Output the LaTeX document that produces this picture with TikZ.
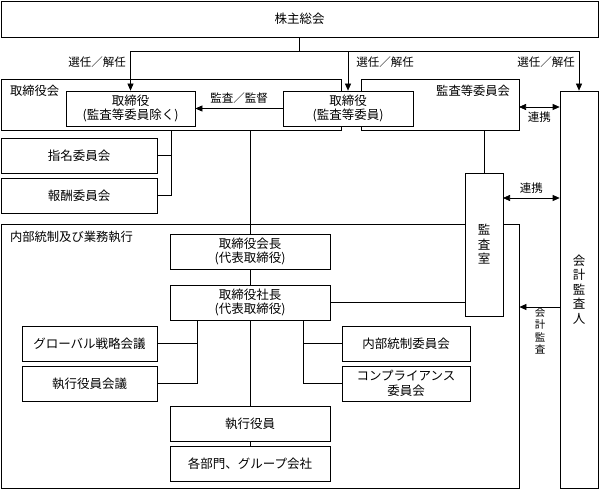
\documentclass[tikz,border=0pt]{standalone}
\usepackage{fontspec}
\setmainfont{Noto Sans CJK JP}
\usetikzlibrary{arrows.meta}

\tikzset{
	box/.style={draw, rectangle, fill=white, inner sep=0pt, minimum height=35pt, align=center, font=\fontsize{12.5}{14.5}\selectfont},
	frame/.style={draw, rectangle, inner sep=0pt},
	lbl/.style={inner sep=1pt, font=\fontsize{11.5}{13}\selectfont},
	ttl/.style={inner sep=1pt, font=\fontsize{12.3}{14}\selectfont},
	arr/.style={-{Triangle[length=7pt,width=6pt]}},
	darr/.style={{Triangle[length=7pt,width=6pt]}-{Triangle[length=7pt,width=6pt]}},
}

\begin{document}
\begin{tikzpicture}[x=1pt, y=1pt, line width=0.7pt]
	\useasboundingbox (0,0) rectangle (599,-489);

	\node[box, minimum width=597pt, minimum height=36pt](GM) at (299.5,-19){株主総会};

	% frames
	\node[frame, minimum width=340pt, minimum height=51pt](BOD) at (171,-104.5){};
	\node[frame, minimum width=158pt, minimum height=51pt](AC) at (440,-104.5){};
	\node[frame, minimum width=518pt, minimum height=264pt](IC) at (260,-356){};
	\node[ttl, anchor=west](BODT) at ([xshift=8pt,yshift=-12pt]BOD.north west){取締役会};
	\node[ttl, anchor=east](ACT) at ([xshift=-8pt,yshift=-12pt]AC.north east){監査等委員会};
	\node[ttl, anchor=west](ICT) at ([xshift=8pt,yshift=-13pt]IC.north west){内部統制及び業務執行};

	\node[box, minimum width=129pt](DIR1) at (130.5,-108.5){取締役\\(監査等委員除く)};
	\node[box, right of=DIR1, node distance=217.5pt, minimum width=130pt](DIR2){取締役\\(監査等委員)};

	\node[box, minimum width=38pt, minimum height=397pt](CA) at (579,-289.5){会\\計\\監\\査\\人};

	\node[box, minimum width=156pt](NOM) at (79,-155.5){指名委員会};
	\node[box, below of=NOM, node distance=40pt, minimum width=156pt](REM){報酬委員会};

	\node[box, minimum width=38pt, minimum height=143pt](IA) at (484,-244.5){監\\査\\室};

	\node[box, minimum width=160pt](CHR) at (250,-251.5){取締役会長\\(代表取締役)};
	\node[box, below of=CHR, node distance=51pt, minimum width=160pt](PRES){取締役社長\\(代表取締役)};
	\node[box, below of=PRES, node distance=121pt, minimum width=160pt](EO){執行役員};
	\node[box, below of=EO, node distance=40pt, minimum width=160pt](DEPT){各部門、グループ会社};

	\node[box, minimum width=135pt](GS) at (89.5,-343.5){グローバル戦略会議};
	\node[box, below of=GS, node distance=40pt, minimum width=135pt](EOM){執行役員会議};
	\node[box, right of=GS, node distance=316.5pt, minimum width=128pt](ICC){内部統制委員会};
	\node[box, below of=ICC, node distance=40pt, minimum width=128pt](COMP){コンプライアンス\\委員会};

	% election
	\coordinate (J0) at (299.5,-51);
	\draw (GM.south) -- (J0);
	\draw[arr] (J0) -| (DIR1.north);
	\draw[arr] (J0) -| (DIR2.north);
	\draw[arr] (J0) -| (CA.north);
	\node[lbl](SEL1) at (97,-62){選任／解任};
	\node[lbl](SEL2) at (385,-62){選任／解任};
	\node[lbl](SEL3) at (546,-62){選任／解任};

	\draw[arr] (DIR2.west) -- node[lbl, above=4pt]{監査／監督} (DIR1.east);

	\coordinate (L1) at (519,-107);
	\draw[darr] (L1) -- node[lbl, below=3pt]{連携} (L1 -| CA.west);

	\draw (BOD.south) |- (REM.east);
	\draw (NOM.east) -- (NOM.east -| BOD.south);
	\draw (CHR.north) -- (CHR.north |- BOD.south);
	\draw (IA.north) -- (IA.north |- AC.south);

	\coordinate (L2) at (503,-198);
	\draw[darr] (L2) -- node[lbl, above=3pt]{連携} (L2 -| CA.west);

	\draw (CHR) -- (PRES);
	\draw (PRES.east) -- (PRES.east -| IA.west);

	\coordinate (L3) at (560,-307);
	\draw[arr] (L3) -- (L3 -| IC.east);
	\node[lbl, align=center, font=\fontsize{10.5}{12.5}\selectfont](AUD) at (540,-331){会\\計\\監\\査};

	\coordinate (P1) at ([xshift=-53pt]PRES.south);
	\coordinate (P2) at ([xshift=53pt]PRES.south);
	\draw (P1) |- (EOM.east);
	\draw (GS.east) -- (GS.east -| P1);
	\draw (P2) |- (COMP.west);
	\draw (ICC.west) -- (ICC.west -| P2);
	\draw (PRES) -- (EO);
	\draw (EO) -- (DEPT);
\end{tikzpicture}
\end{document}
